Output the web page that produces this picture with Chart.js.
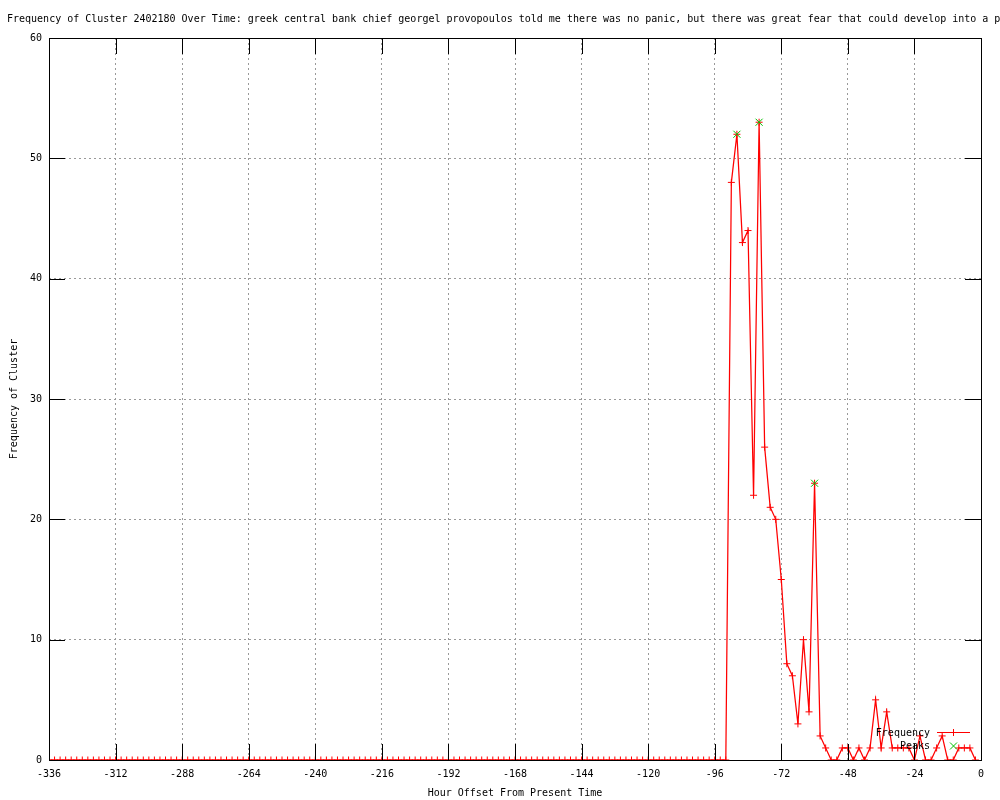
<!DOCTYPE html>
<html>
<head>
<meta charset="utf-8">
<title>Frequency of Cluster 2402180</title>
<script src="https://cdn.jsdelivr.net/npm/chart.js@4/dist/chart.umd.min.js"></script>
<style>
	body { margin: 0; background: #fff; }
	#wrap { width: 1000px; height: 800px; }
</style>
</head>
<body>
<div id="wrap"><canvas id="myChart" width="1000" height="800"></canvas></div>
<script>
var chartTitle = "Frequency of Cluster 2402180 Over Time: greek central bank chief georgel provopoulos told me there was no panic, but there was great fear that could develop into a panic";

// hour offsets, one sample every 2 hours
var hours = [
	-336, -334, -332, -330, -328, -326, -324, -322, -320, -318, -316, -314,
	-312, -310, -308, -306, -304, -302, -300, -298, -296, -294, -292, -290,
	-288, -286, -284, -282, -280, -278, -276, -274, -272, -270, -268, -266,
	-264, -262, -260, -258, -256, -254, -252, -250, -248, -246, -244, -242,
	-240, -238, -236, -234, -232, -230, -228, -226, -224, -222, -220, -218,
	-216, -214, -212, -210, -208, -206, -204, -202, -200, -198, -196, -194,
	-192, -190, -188, -186, -184, -182, -180, -178, -176, -174, -172, -170,
	-168, -166, -164, -162, -160, -158, -156, -154, -152, -150, -148, -146,
	-144, -142, -140, -138, -136, -134, -132, -130, -128, -126, -124, -122,
	-120, -118, -116, -114, -112, -110, -108, -106, -104, -102, -100, -98,
	-96, -94, -92, -90, -88, -86, -84, -82, -80, -78, -76, -74,
	-72, -70, -68, -66, -64, -62, -60, -58, -56, -54, -52, -50,
	-48, -46, -44, -42, -40, -38, -36, -34, -32, -30, -28, -26,
	-24, -22, -20, -18, -16, -14, -12, -10, -8, -6, -4, -2
];
var frequency = [
	0, 0, 0, 0, 0, 0, 0, 0, 0, 0, 0, 0,
	0, 0, 0, 0, 0, 0, 0, 0, 0, 0, 0, 0,
	0, 0, 0, 0, 0, 0, 0, 0, 0, 0, 0, 0,
	0, 0, 0, 0, 0, 0, 0, 0, 0, 0, 0, 0,
	0, 0, 0, 0, 0, 0, 0, 0, 0, 0, 0, 0,
	0, 0, 0, 0, 0, 0, 0, 0, 0, 0, 0, 0,
	0, 0, 0, 0, 0, 0, 0, 0, 0, 0, 0, 0,
	0, 0, 0, 0, 0, 0, 0, 0, 0, 0, 0, 0,
	0, 0, 0, 0, 0, 0, 0, 0, 0, 0, 0, 0,
	0, 0, 0, 0, 0, 0, 0, 0, 0, 0, 0, 0,
	0, 0, 0, 48, 52, 43, 44, 22, 53, 26, 21, 20,
	15, 8, 7, 3, 10, 4, 23, 2, 1, 0, 0, 1,
	1, 0, 1, 0, 1, 5, 1, 4, 1, 1, 1, 1,
	0, 2, 0, 0, 1, 2, 0, 0, 1, 1, 1, 0
];
var peakHours = [-88, -80, -60];
var peakValues = [52, 53, 23];

var xTicks = { min: -336, max: 0, step: 24 };
var yTicks = { min: 0, max: 60, step: 10 };

var monoFont = "'DejaVu Sans Mono', 'Liberation Mono', monospace";
var tickLen = 16;

function toPoints(xs, ys) {
	return xs.map((x, i) => ({ x: x, y: ys[i] }));
}

function plus(ctx, x, y, r) {
	ctx.moveTo(x - r, y);
	ctx.lineTo(x + r, y);
	ctx.moveTo(x, y - r);
	ctx.lineTo(x, y + r);
}

function cross(ctx, x, y, r) {
	ctx.moveTo(x - r, y - r);
	ctx.lineTo(x + r, y + r);
	ctx.moveTo(x - r, y + r);
	ctx.lineTo(x + r, y - r);
}

// gnuplot look: inward ticks on all sides, black border, key inside, long title
var gnuplotFrame = {
	id: "gnuplotFrame",
	afterDatasetsDraw: function (chart) {
		var ctx = chart.ctx;
		var a = chart.chartArea;
		var xs = chart.scales.x;
		var ys = chart.scales.y;
		ctx.save();
		ctx.strokeStyle = "#000";
		ctx.lineWidth = 1;
		ctx.beginPath();
		xs.ticks.forEach((t) => {
			var px = Math.round(xs.getPixelForValue(t.value)) + 0.5;
			ctx.moveTo(px, a.bottom);
			ctx.lineTo(px, a.bottom - tickLen);
			ctx.moveTo(px, a.top);
			ctx.lineTo(px, a.top + tickLen);
		});
		ys.ticks.forEach((t) => {
			var py = Math.round(ys.getPixelForValue(t.value)) + 0.5;
			ctx.moveTo(a.left, py);
			ctx.lineTo(a.left + tickLen, py);
			ctx.moveTo(a.right, py);
			ctx.lineTo(a.right - tickLen, py);
		});
		ctx.stroke();
		ctx.strokeRect(a.left + 0.5, a.top + 0.5, a.right - a.left, a.bottom - a.top);

		// key
		var ds = chart.data.datasets;
		ctx.font = "10px " + monoFont;
		ctx.fillStyle = "#000";
		ctx.textAlign = "right";
		ctx.textBaseline = "middle";
		ctx.fillText(ds[0].label, 930, 733);
		ctx.fillText(ds[1].label, 930, 746);
		ctx.strokeStyle = ds[0].borderColor;
		ctx.beginPath();
		ctx.moveTo(937, 732.5);
		ctx.lineTo(970, 732.5);
		plus(ctx, 953.5, 732.5, 3.5);
		ctx.stroke();
		ctx.strokeStyle = ds[1].pointBorderColor;
		ctx.beginPath();
		cross(ctx, 953.5, 746, 3.5);
		ctx.stroke();

		ctx.textAlign = "left";
		ctx.textBaseline = "alphabetic";
		ctx.fillText(chartTitle, 7, 22);
		ctx.restore();
	},
};

var ctx = document.getElementById("myChart").getContext("2d");
var chart = new Chart(ctx, {
	type: "line",
	data: {
		datasets: [
			{
				label: "Frequency",
				data: toPoints(hours, frequency),
				borderColor: "#ff0000",
				borderWidth: 1.25,
				pointStyle: "cross",
				pointRadius: 3.5,
				pointBorderColor: "#ff0000",
				pointBorderWidth: 1,
				tension: 0,
				fill: false,
				clip: 0,
				order: 1,
			},
			{
				label: "Peaks",
				data: toPoints(peakHours, peakValues),
				showLine: false,
				pointStyle: "crossRot",
				pointRadius: 5,
				pointBorderColor: "#00c000",
				pointBorderWidth: 1,
				borderColor: "#00c000",
				clip: 0,
				order: 0,
			},
		],
	},
	options: {
		responsive: false,
		animation: false,
		events: [],
		layout: { padding: { top: 38, right: 19, left: 0, bottom: 0 } },
		plugins: {
			legend: { display: false },
			tooltip: { enabled: false },
			title: { display: false },
		},
		scales: {
			x: {
				type: "linear",
				position: "bottom",
				min: xTicks.min,
				max: xTicks.max,
				afterFit: (s) => { s.height = 40; },
				ticks: {
					stepSize: xTicks.step,
					autoSkip: false,
					maxRotation: 0,
					padding: 8,
					color: "#000",
					font: { family: monoFont, size: 10 },
				},
				grid: { color: "#999999", lineWidth: 1, drawTicks: false },
				border: { display: false, dash: [2, 3] },
				title: {
					display: true,
					text: "Hour Offset From Present Time",
					color: "#000",
					font: { family: monoFont, size: 10 },
					padding: { top: 0, bottom: 1 },
				},
			},
			y: {
				type: "linear",
				min: yTicks.min,
				max: yTicks.max,
				afterFit: (s) => { s.width = 49; },
				ticks: {
					stepSize: yTicks.step,
					padding: 7,
					color: "#000",
					font: { family: monoFont, size: 10 },
				},
				grid: { color: "#999999", lineWidth: 1, drawTicks: false },
				border: { display: false, dash: [2, 3] },
				title: {
					display: true,
					text: "Frequency of Cluster",
					color: "#000",
					font: { family: monoFont, size: 10 },
					padding: { top: 8, bottom: 0 },
				},
			},
		},
	},
	plugins: [gnuplotFrame],
});
</script>
</body>
</html>
